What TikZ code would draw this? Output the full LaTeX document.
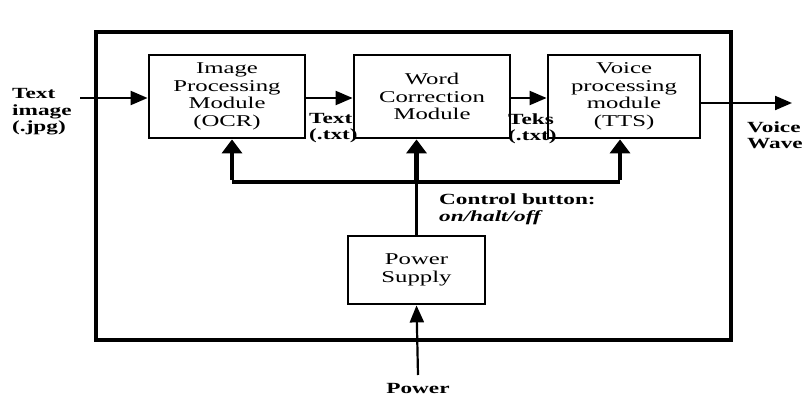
\documentclass[tikz,border=0pt]{standalone}
\usepackage{fontspec}
\setmainfont[FakeStretch=1.5]{Liberation Serif}
\usepackage{tikz}
\usetikzlibrary{arrows.meta, positioning, calc}
\tikzset{
    module/.style ={rectangle, draw, line width=2.8pt, align=center,
                    inner sep=0pt, font=\fontsize{16.5}{17.5}\selectfont},
    lbl/.style = {inner sep=0pt, align=left,
                  font=\fontsize{15.5}{16.5}\selectfont\bfseries},
    flow/.style = {-{Triangle[length=17pt, width=14pt]}, line width=2.2pt},
    bus/.style = {line width=4.5pt},
    busarrow/.style = {-{Triangle[length=14pt, width=20pt]}, line width=4.5pt}
    }

\begin{document}
\begin{tikzpicture}[x=1pt, y=-1pt]
    \useasboundingbox (0,0) rectangle (803,396);

    % outer frame
    \draw[line width=3.3pt] (96,32) rectangle (731,340);

    \node[module, minimum width=156pt, minimum height=83pt] (ocr) at (227,96.5)
        {Image\\Processing\\Module\\(OCR)};
    \node[module, minimum width=156pt, minimum height=83pt] (wcm) at (432,96.5)
        {Word\\Correction\\Module};
    \node[module, minimum width=152pt, minimum height=83pt] (tts) at (624,96.5)
        {Voice\\processing\\module\\(TTS)};
    \node[module, minimum width=137pt, minimum height=68pt] (psu) at (416.5,270)
        {Power\\Supply};

    \coordinate (src) at (80,98);
    \coordinate (out) at (792,103);
    \coordinate (busL) at (232,182);
    \coordinate (busR) at (620,182);
    \coordinate (pwr) at (418,375);

    \node[lbl, anchor=west] (inlbl) at (12,112) {Text\\image\\(.jpg)};
    \node[lbl, anchor=west] (txt1) at (309,128) {Text\\(.txt)};
    \node[lbl, anchor=west] (txt2) at (508,129) {Teks\\(.txt)};
    \node[lbl, anchor=west] (outlbl) at (747,135) {Voice\\Wave};
    \node[lbl, anchor=north west] (ctrl) at (439,194)
        {Control button:\\\textit{on/halt/off}};
    \node[lbl] (pwrlbl) at (418,388) {Power};

    \draw[flow] (src) -- (src -| ocr.west);
    \draw[flow] (ocr.east |- src) -- (wcm.west |- src);
    \draw[flow] (wcm.east |- src) -- (tts.west |- src);
    \draw[flow] (out -| tts.east) -- (out);

    \draw[bus] (busL) -- (busR);
    \draw[busarrow] ([yshift=2.25pt]busL) -- (busL |- ocr.south);
    \draw[busarrow] ([yshift=2.25pt]busR) -- (busR |- tts.south);
    \draw[line width=3pt] (psu.north) -- (psu.north |- busL);
    \draw[busarrow] (psu.north |- busL) -- (psu.north |- wcm.south);

    \draw[flow] (pwr) -- (psu.south);
\end{tikzpicture}
\end{document}
